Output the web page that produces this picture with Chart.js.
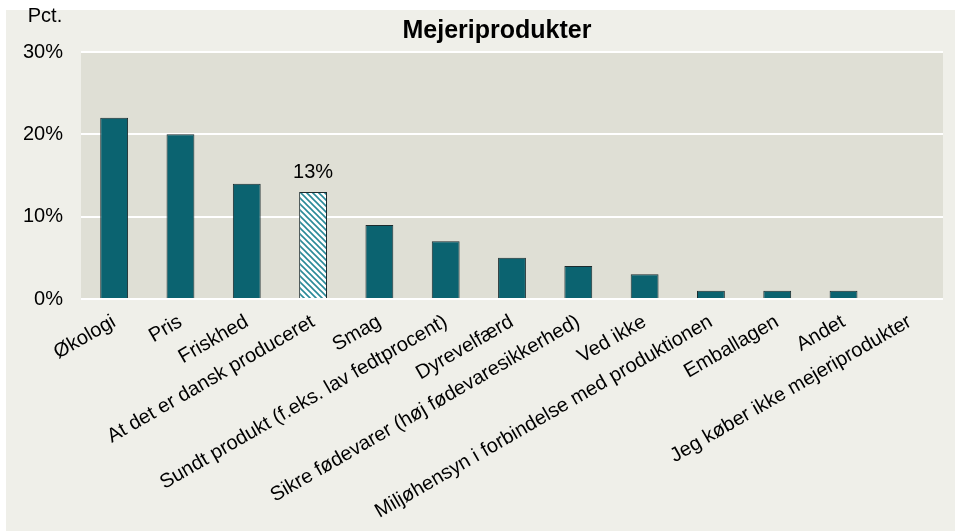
<!DOCTYPE html>
<html>
<head>
<meta charset="utf-8">
<script src="https://cdn.jsdelivr.net/npm/chart.js@4/dist/chart.umd.min.js"></script>
<style>
  body { margin: 0; background: #fff; }
  #wrap { width: 955px; height: 531px; }
</style>
</head>
<body>
<div id="wrap"><canvas id="myChart" width="955" height="531"></canvas></div>
<script>
// categories and values (pct.)
const categories = [
  'Økologi', 'Pris', 'Friskhed', 'At det er dansk produceret',
  'Smag', 'Sundt produkt (f.eks. lav fedtprocent)', 'Dyrevelfærd',
  'Sikre fødevarer (høj fødevaresikkerhed)', 'Ved ikke',
  'Miljøhensyn i forbindelse med produktionen', 'Emballagen', 'Andet',
  'Jeg køber ikke mejeriprodukter'
];
const values = [22, 20, 14, 13, 9, 7, 5, 4, 3, 1, 1, 1, 0];
const highlightIndex = 3;
const yTicks = [0, 10, 20, 30];

const FONT = '"Liberation Sans", Arial, sans-serif';

// hatch pattern for the highlighted bar
function makeHatch() {
  const c = document.createElement('canvas');
  c.width = 6; c.height = 6;
  const g = c.getContext('2d');
  g.fillStyle = '#ffffff';
  g.fillRect(0, 0, 6, 6);
  g.strokeStyle = '#2a8a98';
  g.lineWidth = 1.6;
  g.beginPath();
  g.moveTo(-1, -1); g.lineTo(7, 7);
  g.moveTo(-4, 2); g.lineTo(2, 8);
  g.moveTo(2, -4); g.lineTo(8, 2);
  g.stroke();
  return g.createPattern(c, 'repeat');
}
const ctx = document.getElementById('myChart').getContext('2d');
const hatch = makeHatch();

const bgColors = values.map((v, i) => i === highlightIndex ? hatch : '#0b6370');

const backgroundPlugin = {
  id: 'panelBg',
  beforeDraw(chart) {
    const c = chart.ctx;
    const a = chart.chartArea;
    c.save();
    c.fillStyle = '#ffffff';
    c.fillRect(0, 0, chart.width, chart.height);
    c.fillStyle = '#efefe9';
    c.fillRect(6, 10, chart.width - 6, chart.height - 10);
    c.fillStyle = '#dfdfd5';
    c.fillRect(a.left, a.top, a.right - a.left, a.bottom - a.top);
    c.restore();
  },
  afterDraw(chart) {
    const c = chart.ctx;
    c.save();
    c.fillStyle = '#000';
    c.textAlign = 'center';
    c.textBaseline = 'middle';
    c.font = 'bold 25px ' + FONT;
    c.fillText('Mejeriprodukter', 497, 31);
    c.font = '20px ' + FONT;
    c.fillText('Pct.', 45, 16);
    // value label for highlighted bar
    const bar = chart.getDatasetMeta(0).data[highlightIndex];
    c.textBaseline = 'bottom';
    c.fillText(values[highlightIndex] + '%', bar.x, bar.y - 9);
    c.restore();
  }
};

const config = {
  type: 'bar',
  data: {
    labels: categories,
    datasets: [{
      data: values,
      backgroundColor: bgColors,
      borderColor: '#1c2b2e',
      borderWidth: 1,
      barPercentage: 0.42,
      categoryPercentage: 1
    }]
  },
  options: {
    responsive: false,
    animation: false,
    layout: { padding: { top: 52, right: 12, left: 0, bottom: 0 } },
    plugins: { legend: { display: false }, tooltip: { enabled: false } },
    scales: {
      x: {
        grid: { display: false, drawTicks: false },
        border: { display: false },
        ticks: {
          color: '#000',
          font: { size: 20, family: FONT },
          minRotation: 30,
          maxRotation: 30,
          autoSkip: false,
          padding: 11
        },
        afterFit(scale) { scale.height = 531 - 299; }
      },
      y: {
        min: 0,
        max: 30,
        afterBuildTicks(scale) { scale.ticks = yTicks.map(v => ({ value: v })); },
        grid: { color: '#ffffff', lineWidth: 2, drawTicks: false },
        border: { display: false },
        ticks: {
          color: '#000',
          font: { size: 20, family: FONT },
          padding: 18,
          callback: v => v + '%'
        },
        afterFit(scale) { scale.width = 81; }
      }
    }
  },
  plugins: [backgroundPlugin]
};

const myChart = new Chart(ctx, config);
</script>
</body>
</html>
